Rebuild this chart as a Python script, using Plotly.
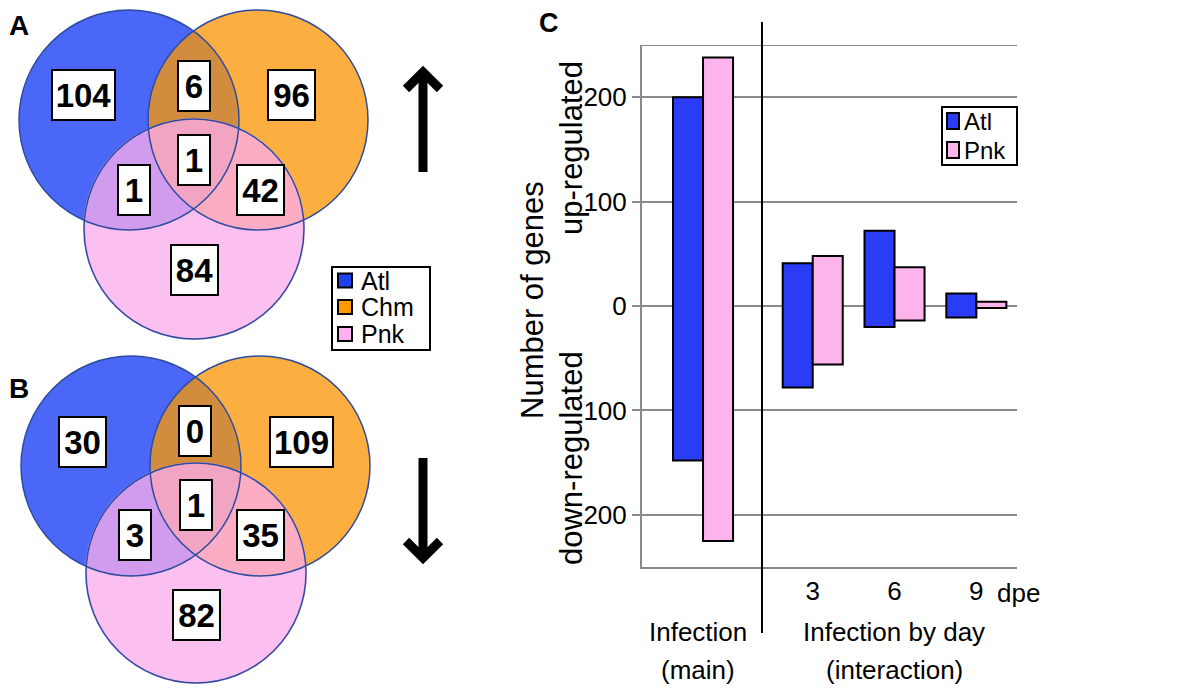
import plotly.graph_objects as go

# ---- panel C: genes up/down regulated ----
groups = ["Infection", "3", "6", "9"]
atl_up = [200, 41, 72, 12]
atl_down = [148, 78, 20, 11]
pnk_up = [238, 48, 37, 4]
pnk_down = [225, 56, 14, 2]

yticks = [-200, -100, 0, 100, 200]
ytick_text = ["200", "100", "0", "100", "200"]
xtick_text = ["3", "6", "9"]

# ---- panels A/B: venn counts ----
venn_regions = ["Atl", "Atl+Chm", "Chm", "Atl+Chm+Pnk", "Atl+Pnk", "Chm+Pnk", "Pnk"]
venn_up = [104, 6, 96, 1, 1, 42, 84]
venn_down = [30, 0, 109, 1, 3, 35, 82]
venn_legend = ["Atl", "Chm", "Pnk"]

# layout bits (page has an 8px body margin, canvas coords are page pixels)
OFF = 8
W, H = 1200 - OFF, 695 - OFF
xpos = [0.659, 2, 3, 4]
bw = 0.367
ATL = "#2B3CF7"
PNK = "#FDB3EC"
GRID = "#8a8a8a"
FONT = "Liberation Sans, Arial, sans-serif"

fig = go.Figure()

fig.add_trace(go.Bar(
    x=xpos, y=[u + d for u, d in zip(atl_up, atl_down)], base=[-d for d in atl_down],
    width=bw, offset=-bw, name="Atl",
    marker=dict(color=ATL, line=dict(color="black", width=2)),
))
fig.add_trace(go.Bar(
    x=xpos, y=[u + d for u, d in zip(pnk_up, pnk_down)], base=[-d for d in pnk_down],
    width=bw, offset=0, name="Pnk",
    marker=dict(color=PNK, line=dict(color="black", width=2)),
))
# pixel canvas for the venn part and the free drawing
fig.add_trace(go.Scatter(x=[], y=[], xaxis="x2", yaxis="y2", showlegend=False))

shapes = []
annos = []


def circ(cx, cy, r, **kw):
    return dict(type="circle", xref="x2", yref="y2", x0=cx - r, x1=cx + r,
                y0=cy - r, y1=cy + r, layer="above", **kw)


def box(x, y, text, w, h):
    annos.append(dict(xref="x2", yref="y2", x=x, y=y, text="<b>%s</b>" % text,
                      showarrow=False, font=dict(family=FONT, size=33, color="black"),
                      bgcolor="white", bordercolor="black", borderwidth=2, borderpad=0,
                      width=w - 4, height=h - 4, align="center", valign="middle"))


box_w = {1: 34, 2: 49, 3: 65}
venn_sets = [
    (venn_up, [(129, 120), (258, 120), (194, 229)],
     [(83.5, 95), (194, 86), (291, 95), (194, 160), (134, 190), (260, 190), (194.5, 270)]),
    (venn_down, [(131, 466), (260, 466), (196, 573)],
     [(82.5, 442), (195, 431), (301.5, 442), (196, 505), (135, 535), (260.5, 535), (196, 615)]),
]
for counts, centers, spots in venn_sets:
    (bx, by), (ox, oy), (px, py) = centers
    shapes.append(circ(bx, by, 110, fillcolor="#4B67F7", line=dict(width=0)))
    shapes.append(circ(ox, oy, 110, fillcolor="rgba(251,151,7,0.77)", line=dict(width=0)))
    shapes.append(circ(px, py, 111, fillcolor="rgba(251,173,235,0.765)", line=dict(width=0)))
    for cx, cy in centers:
        shapes.append(circ(cx, cy, 110, fillcolor="rgba(0,0,0,0)", line=dict(color="#2E4C9E", width=1.5)))
    for (x, y), n in zip(spots, counts):
        box(x, y, n, box_w[len(str(n))], 52)

# arrows
arrow = dict(color="black", width=9)
shapes += [
    dict(type="line", xref="x2", yref="y2", x0=423, x1=423, y0=172, y1=72, line=arrow),
    dict(type="path", xref="x2", yref="y2", path="M 406,89 L 423,72 L 440,89", line=arrow),
    dict(type="line", xref="x2", yref="y2", x0=423, x1=423, y0=458, y1=556, line=arrow),
    dict(type="path", xref="x2", yref="y2", path="M 406,541 L 423,558 L 440,541", line=arrow),
]

# legend for A/B
shapes.append(dict(type="rect", xref="x2", yref="y2", x0=332, x1=430, y0=267, y1=350,
                   line=dict(color="black", width=2), fillcolor="white"))
for name, col, yy in zip(venn_legend, ["#2040F0", "#FF9900", "#FFB0EE"], [280.5, 307, 334]):
    shapes.append(dict(type="rect", xref="x2", yref="y2", x0=338, x1=352, y0=yy - 7, y1=yy + 7,
                       line=dict(color="black", width=2), fillcolor=col))
    annos.append(dict(xref="x2", yref="y2", x=359, y=yy, text=name, xanchor="left",
                      showarrow=False, font=dict(family=FONT, size=25, color="black")))

# legend for C
shapes.append(dict(type="rect", xref="x2", yref="y2", x0=942, x1=1017, y0=107, y1=165,
                   line=dict(color="black", width=2), fillcolor="white"))
for name, col, yy in zip(["Atl", "Pnk"], [ATL, PNK], [121, 150]):
    shapes.append(dict(type="rect", xref="x2", yref="y2", x0=947, x1=959, y0=yy - 8, y1=yy + 8,
                       line=dict(color="black", width=2), fillcolor=col))
    annos.append(dict(xref="x2", yref="y2", x=962, y=yy, text=name, xanchor="left",
                      showarrow=False, font=dict(family=FONT, size=24, color="black")))

# separator and top frame line
shapes.append(dict(type="line", xref="x2", yref="y2", x0=762, x1=762, y0=22, y1=633,
                   line=dict(color="black", width=2)))
shapes.append(dict(type="line", xref="x domain", yref="y", x0=0, x1=1, y0=250, y1=250,
                   line=dict(color=GRID, width=2), layer="below"))

# texts
txt = [
    ("A", 19, 25, 28, True, 0),
    ("B", 19, 388, 28, True, 0),
    ("C", 549, 23, 27, True, 0),
    ("Number of genes", 532, 300, 31, False, -90),
    ("up-regulated", 571, 148, 31, False, -90),
    ("down-regulated", 571, 458, 31, False, -90),
    ("dpe", 1018, 593, 26, False, 0),
    ("Infection", 698, 632, 26, False, 0),
    ("(main)", 698, 670, 26, False, 0),
    ("Infection by day", 894, 632, 26, False, 0),
    ("(interaction)", 894, 670, 26, False, 0),
]
for t, x, y, s, b, ang in txt:
    annos.append(dict(xref="x2", yref="y2", x=x, y=y, text="<b>%s</b>" % t if b else t,
                      showarrow=False, textangle=ang, borderpad=0,
                      font=dict(family=FONT, size=s, color="black")))

fig.update_layout(
    width=W, height=H, margin=dict(l=0, r=0, t=0, b=0),
    paper_bgcolor="white", plot_bgcolor="rgba(0,0,0,0)",
    barmode="overlay", showlegend=False,
    font=dict(family=FONT, color="black"),
    xaxis=dict(domain=[(642 - OFF) / W, (1017 - OFF) / W], range=[-0.087, 4.497], anchor="y",
               tickvals=xpos[1:], ticktext=xtick_text, tickfont=dict(size=26),
               showgrid=False, zeroline=False, showline=True, linecolor=GRID, linewidth=2,
               ticks=""),
    yaxis=dict(domain=[1 - (567 - OFF) / H, 1 - (45 - OFF) / H], range=[-250, 250], anchor="x",
               tickvals=yticks, ticktext=ytick_text, tickfont=dict(size=26),
               showgrid=True, gridcolor=GRID, gridwidth=2,
               zeroline=True, zerolinecolor=GRID, zerolinewidth=2,
               showline=True, linecolor=GRID, linewidth=2,
               ticks="outside", ticklen=8, tickwidth=2, tickcolor=GRID),
    xaxis2=dict(domain=[0, 1], range=[OFF, OFF + W], anchor="y2", visible=False, fixedrange=True),
    yaxis2=dict(domain=[0, 1], range=[OFF + H, OFF], anchor="x2", visible=False, fixedrange=True),
    shapes=shapes, annotations=annos,
)

fig.write_html("out.html")
